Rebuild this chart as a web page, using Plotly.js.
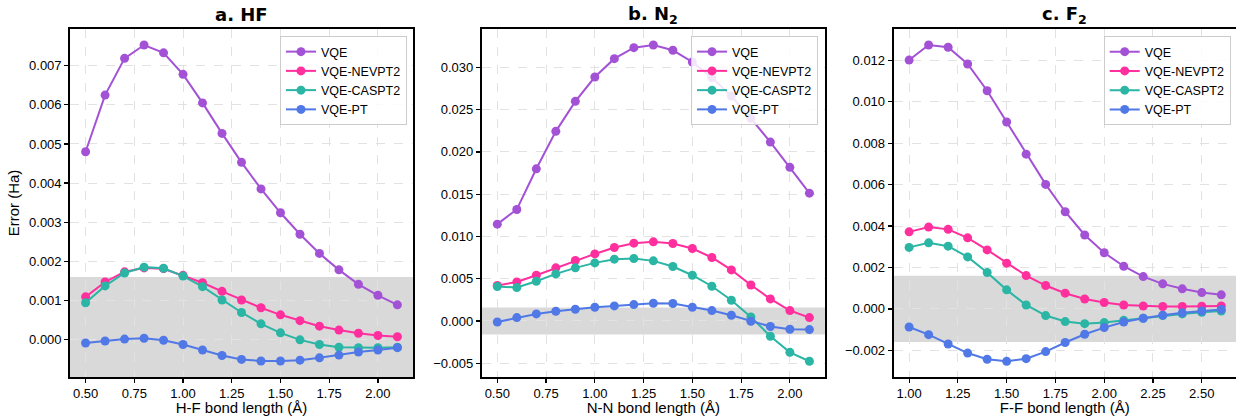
<!DOCTYPE html>
<html>
<head>
<meta charset="utf-8">
<script src="https://cdn.plot.ly/plotly-3.0.1.min.js"></script>
<style>html,body{margin:0;padding:0;background:#fff;}#chart{width:1236px;height:416px;}</style>
</head>
<body>
<div id="chart"></div>
<script>
// ---------- data ----------
const seriesNames = ["VQE", "VQE-NEVPT2", "VQE-CASPT2", "VQE-PT"];
const seriesColors = ["#a352d6", "#ff2f9e", "#2bb5a5", "#5078e6"];

const panelTitles = ["a. HF", "b. N<sub>2</sub>", "c. F<sub>2</sub>"];
const xTitles = ["H-F bond length (Å)", "N-N bond length (Å)", "F-F bond length (Å)"];
const yTitle = "Error (Ha)";

// HF
const hfBond = [0.5, 0.6, 0.7, 0.8, 0.9, 1.0, 1.1, 1.2, 1.3, 1.4, 1.5, 1.6, 1.7, 1.8, 1.9, 2.0, 2.1];
const hfVQE    = [0.00480, 0.00625, 0.00719, 0.00753, 0.00733, 0.00678, 0.00605, 0.00527, 0.00453, 0.00385, 0.00324, 0.00269, 0.00220, 0.00178, 0.00141, 0.00113, 0.000885];
const hfNEVPT2 = [0.00109, 0.00147, 0.00173, 0.00183, 0.00181, 0.00164, 0.00145, 0.00123, 0.00101, 0.00081, 0.00063, 0.00048, 0.00034, 0.00024, 0.00016, 0.00010, 0.00007];
const hfCASPT2 = [0.00094, 0.00137, 0.00170, 0.00185, 0.00182, 0.00162, 0.00135, 0.00101, 0.00069, 0.00040, 0.00017, -0.00001, -0.00013, -0.00020, -0.00021, -0.00021, -0.00020];
const hfPT     = [-0.00009, -0.00004, 0.00001, 0.00003, -0.00002, -0.00013, -0.00027, -0.00041, -0.00051, -0.00055, -0.00055, -0.00053, -0.00047, -0.00040, -0.00032, -0.00027, -0.00021];

// N2
const n2Bond = [0.5, 0.6, 0.7, 0.8, 0.9, 1.0, 1.1, 1.2, 1.3, 1.4, 1.5, 1.6, 1.7, 1.8, 1.9, 2.0, 2.1];
const n2VQE    = [0.01145, 0.01319, 0.01800, 0.02243, 0.02598, 0.02886, 0.03103, 0.03233, 0.03265, 0.03202, 0.03064, 0.02880, 0.02660, 0.02397, 0.02116, 0.01817, 0.01512];
const n2NEVPT2 = [0.00419, 0.00462, 0.00541, 0.00628, 0.00715, 0.00793, 0.00869, 0.00920, 0.00936, 0.00917, 0.00857, 0.00751, 0.00604, 0.00426, 0.00261, 0.00123, 0.00040];
const n2CASPT2 = [0.00407, 0.00395, 0.00470, 0.00557, 0.00628, 0.00687, 0.00731, 0.00739, 0.00711, 0.00644, 0.00541, 0.00411, 0.00245, 0.00047, -0.00181, -0.00371, -0.00477];
const n2PT     = [-0.00012, 0.00040, 0.00083, 0.00115, 0.00139, 0.00162, 0.00178, 0.00194, 0.00210, 0.00206, 0.00162, 0.00123, 0.00067, -0.00004, -0.00066, -0.00098, -0.00102];

// F2
const f2Bond = [1.0, 1.1, 1.2, 1.3, 1.4, 1.5, 1.6, 1.7, 1.8, 1.9, 2.0, 2.1, 2.2, 2.3, 2.4, 2.5, 2.6];
const f2VQE    = [0.01201, 0.01274, 0.01263, 0.01182, 0.01053, 0.00902, 0.00747, 0.00601, 0.00469, 0.00357, 0.00271, 0.00206, 0.00156, 0.00121, 0.00097, 0.00079, 0.00068];
const f2NEVPT2 = [0.00372, 0.00395, 0.00384, 0.00343, 0.00285, 0.00221, 0.00161, 0.00113, 0.00076, 0.00048, 0.00031, 0.00019, 0.00014, 0.00012, 0.00012, 0.00013, 0.00014];
const f2CASPT2 = [0.00297, 0.00319, 0.00303, 0.00251, 0.00176, 0.00092, 0.00019, -0.00032, -0.00061, -0.00071, -0.00066, -0.00055, -0.00045, -0.00032, -0.00024, -0.00016, -0.00010];
const f2PT     = [-0.00087, -0.00124, -0.00169, -0.00213, -0.00243, -0.00253, -0.00240, -0.00206, -0.00162, -0.00122, -0.00090, -0.00063, -0.00045, -0.00030, -0.00019, -0.00010, -0.00003];

const chemAcc = 0.0016;

// ---------- build ----------
const panels = [
  {x: hfBond, ys: [hfVQE, hfNEVPT2, hfCASPT2, hfPT]},
  {x: n2Bond, ys: [n2VQE, n2NEVPT2, n2CASPT2, n2PT]},
  {x: f2Bond, ys: [f2VQE, f2NEVPT2, f2CASPT2, f2PT]}
];
const legendIds = ["legend", "legend2", "legend3"];
const traces = [];
panels.forEach((p, i) => {
  const sfx = i === 0 ? "" : String(i + 1);
  p.ys.forEach((y, k) => {
    traces.push({
      type: "scatter", mode: "lines+markers",
      x: p.x, y: y, name: seriesNames[k],
      xaxis: "x" + sfx, yaxis: "y" + sfx,
      legend: legendIds[i],
      line: {color: seriesColors[k], width: 2},
      marker: {color: seriesColors[k], size: 9}
    });
  });
});

const W = 1236, H = 416;
const plotTop = 29, plotBot = 377;
const yDom = [(H - plotBot) / H, (H - plotTop) / H];
const xDoms = [[70 / W, 413 / W], [481.7 / W, 825 / W], [893.5 / W, 1]];
const xRanges = [[0.42, 2.18], [0.42, 2.18], [0.92, 0.92 + (W - 893.5) / 195.1]];
const yRanges = [[-0.00096, 0.00794], [-0.00663, 0.03454], [-0.003285, 0.01351]];
const yDticks = [0.001, 0.005, 0.002];

const tickFont = {family: "Liberation Sans, Arial, sans-serif", size: 13, color: "#000"};
const labelFont = {family: "Liberation Sans, Arial, sans-serif", size: 15, color: "#000"};

const layout = {
  width: W, height: H,
  margin: {l: 0, r: 0, t: 0, b: 0},
  paper_bgcolor: "#fff", plot_bgcolor: "#fff",
  showlegend: true,
  shapes: [], annotations: []
};

const legendX = [407 / W, 818 / W, 1230.7 / W];
const legendY = (H - 36) / H;

for (let i = 0; i < 3; i++) {
  const sfx = i === 0 ? "" : String(i + 1);
  layout["xaxis" + sfx] = {
    domain: xDoms[i], anchor: "y" + sfx, range: xRanges[i],
    tick0: 0, dtick: 0.25, tickformat: ".2f",
    showline: true, linecolor: "#000", linewidth: 1.8, mirror: true,
    ticks: "outside", ticklen: 4, tickwidth: 1.2, tickcolor: "#000",
    showgrid: true, gridcolor: "#e2e2e2", griddash: "dash", gridwidth: 1,
    zeroline: false, tickfont: tickFont,
    title: {text: xTitles[i], font: labelFont, standoff: 10}
  };
  const yax = {
    domain: yDom, anchor: "x" + sfx, range: yRanges[i],
    tick0: 0, dtick: yDticks[i], tickformat: ".3f",
    showline: true, linecolor: "#000", linewidth: 1.8, mirror: i < 2,
    ticks: "outside", ticklen: 4, tickwidth: 1.2, tickcolor: "#000",
    showgrid: true, gridcolor: "#e2e2e2", griddash: "dash", gridwidth: 1,
    zeroline: false, tickfont: tickFont
  };
  if (i === 0) yax.title = {text: yTitle, font: labelFont, standoff: 6};
  layout["yaxis" + sfx] = yax;
  layout.shapes.push({
    type: "rect", xref: "x" + sfx + " domain", yref: "y" + sfx,
    x0: 0, x1: 1, y0: -chemAcc, y1: chemAcc,
    fillcolor: "#d9d9d9", line: {width: 0}, layer: "below"
  });
  layout.annotations.push({
    xref: "paper", yref: "paper",
    x: (xDoms[i][0] + Math.min(xDoms[i][1], 1237 / W)) / 2, y: (H - 15) / H,
    xanchor: "center", yanchor: "middle", showarrow: false,
    text: "<b>" + panelTitles[i] + "</b>",
    font: {family: "DejaVu Sans, sans-serif", size: 18, color: "#000"}
  });
  layout[legendIds[i]] = {
    x: legendX[i], y: legendY, xanchor: "right", yanchor: "top",
    xref: "paper", yref: "paper",
    bgcolor: "rgba(255,255,255,0.85)", bordercolor: "#cccccc", borderwidth: 1,
    font: {family: "Liberation Sans, Arial, sans-serif", size: 12.5, color: "#000"},
    itemwidth: 30, tracegroupgap: 0
  };
}

Plotly.newPlot("chart", traces, layout, {displayModeBar: false, staticPlot: true});
</script>
</body>
</html>
